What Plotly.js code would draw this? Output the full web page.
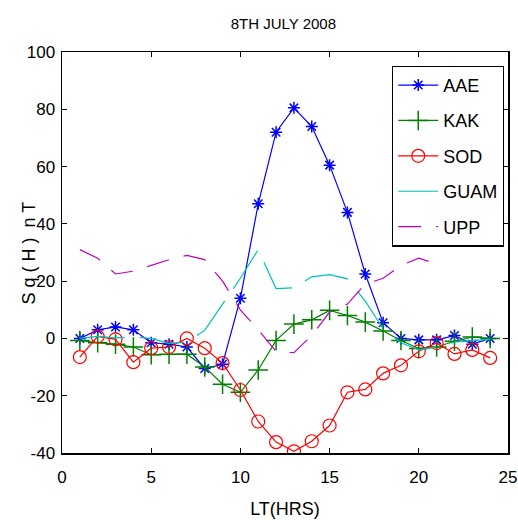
<!DOCTYPE html>
<html>
<head>
<meta charset="utf-8">
<script src="https://cdn.plot.ly/plotly-3.0.1.min.js"></script>
<style>html,body{margin:0;padding:0;background:#fff;}#chart{width:518px;height:520px;}</style>
</head>
<body>
<div id="chart"></div>
<script>
const hours = [1,2,3,4,5,6,7,8,9,10,11,12,13,14,15,16,17,18,19,20,21,22,23,24];
const AAE  = [0,3,4,3,-1.5,-2,-3,-10.5,-9,14,47,72,80.5,74,60.5,44,22.5,5.5,0,-0.5,-0.5,1,-2,0];
const KAK  = [-0.7,-1.5,-2,-3,-5.7,-5.5,-5.5,-10,-16,-18.8,-11,-0.7,5,6.5,9.8,8,5.7,2.6,-0.7,-3.5,-3,-1,0.5,0];
const SOD  = [-6.5,0.7,-0.3,-8.3,-3.4,-3,0,-3.4,-8.6,-18,-29,-36.2,-39.4,-35.9,-30.4,-18.8,-17.8,-12.2,-9.4,-4.5,-1.6,-5.4,-4,-6.8];
const GUAM = [0,0.7,0.2,0.5,0,-1.7,-1.3,2.8,12,21,31,17.4,17.7,21.5,22.3,20.8,13,3.4,-1.5,-4,-3,-1.3,-0.7,-0.3];
const UPP_hours = [1,2,3,4,5,6,7,8,9,10,11,12,13,14,15,16,17,18,19,20,21];
const UPP  = [31,28,22.5,23.5,25.5,27.5,29,27.5,20,10,3,-4.5,-5,1,9.2,12,19,21,25.5,28,26];
const xTicks = [0,5,10,15,20,25];
const yTicks = [-40,-20,0,20,40,60,80,100];

const FONT = "'Liberation Sans Narrow', 'Liberation Sans', Arial, sans-serif";

const traces = [
  {name:'AAE', x:hours, y:AAE, mode:'lines+markers', legendgroup:'a',
   line:{color:'#0000ff', width:1.2},
   marker:{symbol:'asterisk-open', size:10, color:'#0000ff', line:{color:'#0000ff', width:1.5}}},
  {name:'KAK', x:hours, y:KAK, mode:'lines+markers', legendgroup:'b',
   line:{color:'#008000', width:1.2},
   marker:{symbol:'cross-thin-open', size:14, color:'#008000', line:{color:'#008000', width:1.5}}},
  {name:'SOD', x:hours, y:SOD, mode:'lines+markers', legendgroup:'c',
   line:{color:'#ff0000', width:1.2},
   marker:{symbol:'circle-open', size:13, color:'#ff0000', line:{color:'#ff0000', width:1.2}}},
  {name:'GUAM', x:hours, y:GUAM, mode:'lines', legendgroup:'d',
   line:{color:'#00bfbf', width:1.2, dash:'45px,15px'}},
  {name:'UPP', x:UPP_hours, y:UPP, mode:'lines', legendgroup:'e',
   line:{color:'#bf00bf', width:1.2, dash:'23px,15px'}}
];

const axisCommon = {
  showgrid:false, zeroline:false, showline:true, linecolor:'#000', linewidth:1.5,
  mirror:'ticks', ticks:'inside', ticklen:5, tickwidth:1, tickcolor:'#000',
  tickfont:{family:FONT, size:17, color:'#000'}
};

const layout = {
  width:518, height:520,
  margin:{l:62, r:10, t:52, b:67},
  paper_bgcolor:'#fff', plot_bgcolor:'#fff',
  title:{text:'8TH JULY 2008', font:{family:FONT, size:15, color:'#000'}, x:0.547, xanchor:'center', y:0.955, yanchor:'middle'},
  xaxis:Object.assign({}, axisCommon, {range:[0,25], tickvals:xTicks, ticktext:xTicks.map(String),
    ticklabelstandoff:8,
    title:{text:'LT(HRS)', font:{family:FONT, size:18, color:'#000'}, standoff:16}}),
  yaxis:Object.assign({}, axisCommon, {range:[-40,100], tickvals:yTicks, ticktext:yTicks.map(String),
    ticklabelstandoff:2}),
  annotations:[{text:'S q ( H )  n T', textangle:-90, xref:'paper', yref:'paper',
    x:-0.074, y:0.5, xanchor:'center', yanchor:'middle', showarrow:false,
    font:{family:FONT, size:18, color:'#000'}}],
  showlegend:true,
  legend:{x:0.74, y:0.966, xanchor:'left', yanchor:'top', bgcolor:'#fff',
    bordercolor:'#000', borderwidth:1.2, tracegroupgap:9,
    font:{family:FONT, size:18, color:'#000'}, itemwidth:40}
};

Plotly.newPlot('chart', traces, layout, {displayModeBar:false, staticPlot:true});
</script>
</body>
</html>
